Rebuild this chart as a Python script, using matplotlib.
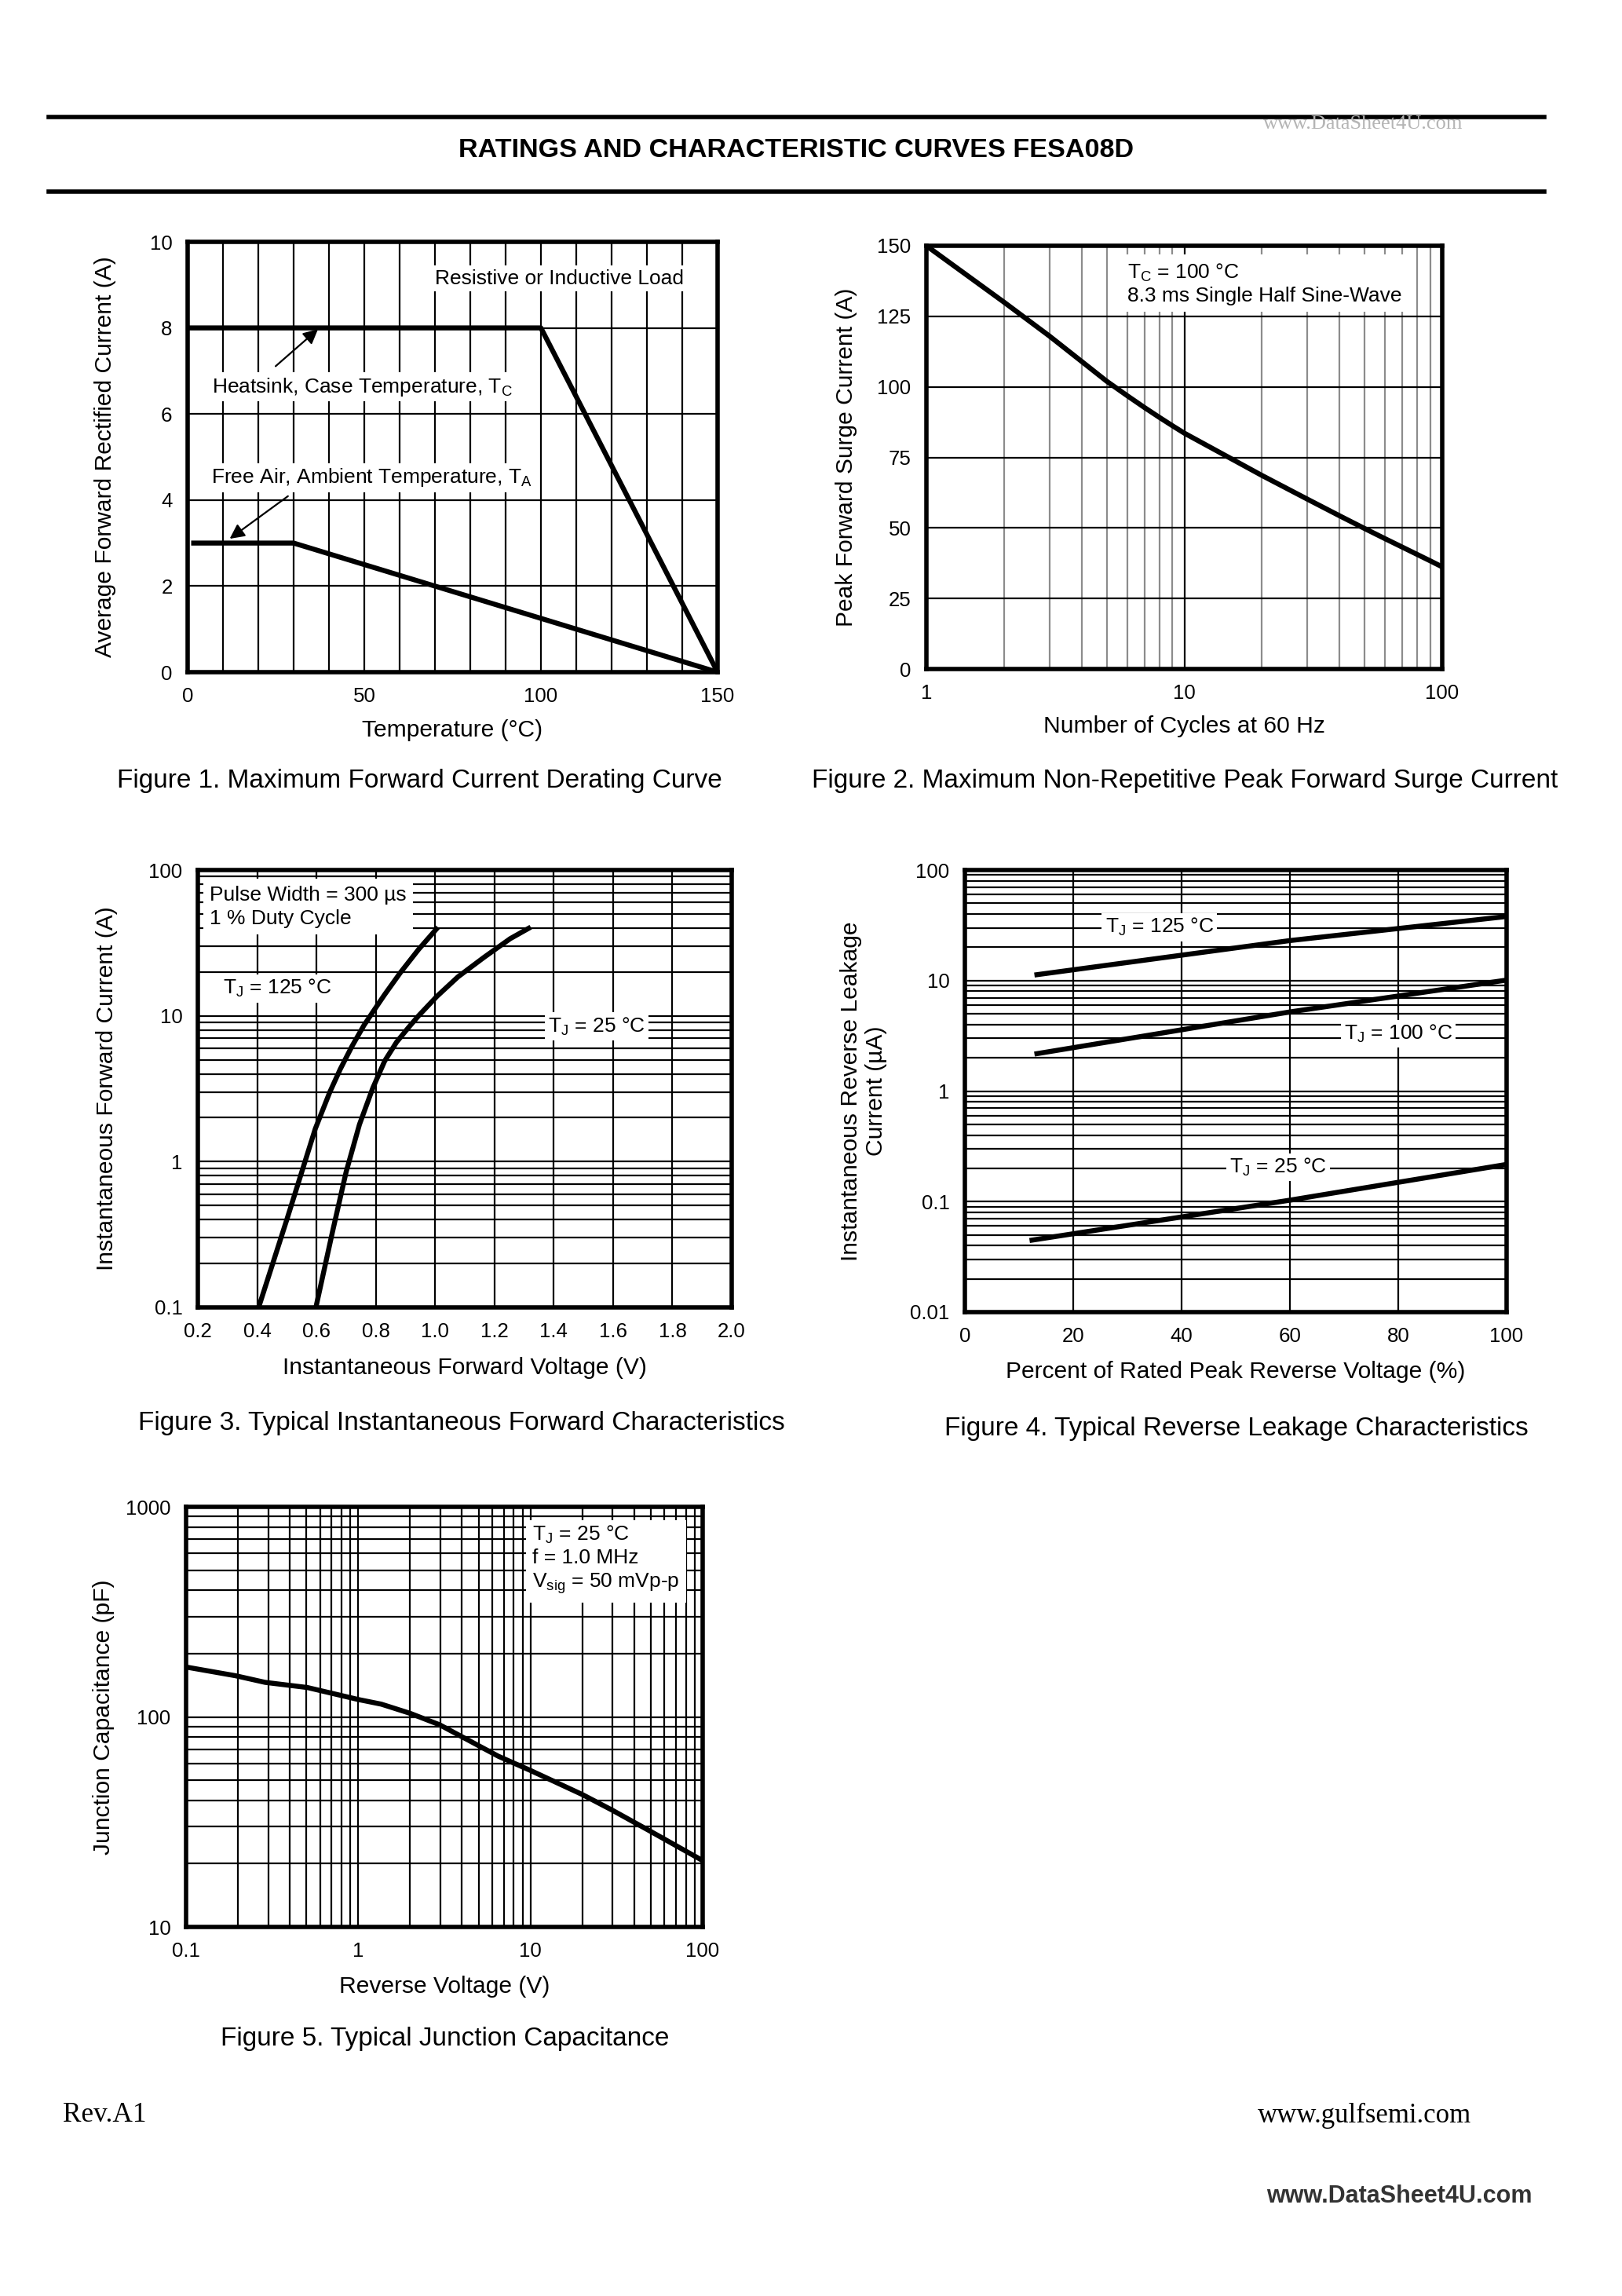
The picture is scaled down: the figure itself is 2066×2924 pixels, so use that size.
import matplotlib
matplotlib.use("Agg")
import matplotlib.pyplot as plt
from matplotlib.lines import Line2D
from matplotlib.ticker import MultipleLocator, FixedLocator, NullFormatter, LogLocator

plt.rcParams['font.family'] = ['Liberation Sans', 'DejaVu Sans']
plt.rcParams['mathtext.fontset'] = 'custom'
plt.rcParams['mathtext.rm'] = 'Liberation Sans'
plt.rcParams['mathtext.it'] = 'Liberation Sans:italic'
plt.rcParams['mathtext.default'] = 'regular'

# ---------------- data ----------------
# Figure 1: derating
tc_temp = [0, 100, 150]
tc_current = [8, 8, 0]
ta_temp = [1, 30, 150]
ta_current = [3, 3, 0]

# Figure 2: surge current
cycles = [1, 2, 3, 4, 5, 6, 7, 8, 9, 10, 20, 30, 40, 50, 60, 70, 80, 90, 100]
surge = [150, 130, 118, 109, 102, 96.9, 92.7, 89.2, 86.2, 83.6,
         68.6, 60.2, 54.3, 49.8, 46.2, 43.2, 40.6, 38.3, 36.2]

# Figure 3: forward characteristics
vf_125 = [0.405, 0.50, 0.596, 0.645, 0.68, 0.72, 0.76, 0.795, 0.83, 0.883, 0.944, 1.004]
if_125 = [0.1, 0.40, 1.68, 3.0, 4.3, 6.2, 8.6, 11.0, 14.0, 19.8, 28.5, 39.3]
vf_25 = [0.598, 0.654, 0.70, 0.745, 0.79, 0.83, 0.87, 0.91, 0.944, 1.006, 1.077, 1.165, 1.253, 1.315]
if_25 = [0.1, 0.33, 0.85, 1.8, 3.2, 4.9, 6.6, 8.3, 10.0, 13.6, 18.5, 25.2, 33.8, 39.8]

# Figure 4: reverse leakage
pct_125 = [13.3, 60, 100]
ir_125 = [11.3, 23, 38]
pct_100 = [13.3, 60, 100]
ir_100 = [2.18, 5.2, 10.1]
pct_25 = [12.4, 60, 100]
ir_25 = [0.0448, 0.103, 0.217]

# Figure 5: junction capacitance
vr = [0.103, 0.194, 0.288, 0.506, 1.0, 1.36, 2.0, 2.97, 4.17, 6.5, 10, 20, 29.8, 49.5, 100]
cj = [172, 157, 146, 138, 121, 115, 104, 91.7, 79, 65, 55.6, 42.7, 36, 28.6, 20.7]

# tick labels
fig1_xticks = [0, 50, 100, 150]
fig1_yticks = [0, 2, 4, 6, 8, 10]
fig2_xticks = [1, 10, 100]
fig2_yticks = [0, 25, 50, 75, 100, 125, 150]
fig3_xticks = [0.2, 0.4, 0.6, 0.8, 1.0, 1.2, 1.4, 1.6, 1.8, 2.0]
fig3_yticks = [0.1, 1, 10, 100]
fig4_xticks = [0, 20, 40, 60, 80, 100]
fig4_yticks = [0.01, 0.1, 1, 10, 100]
fig5_xticks = [0.1, 1, 10, 100]
fig5_yticks = [10, 100, 1000]

# ---------------- figure ----------------
W, H = 2066, 2924
DPI = 200
fig = plt.figure(figsize=(W / DPI, H / DPI), dpi=DPI)
fig.patch.set_facecolor('white')

TICK_FS = 9.3
LABEL_FS = 10.8
ANN_FS = 9.5
CAP_FS = 12
FRAME_LW = 2.0
GRID_LW = 0.8
CURVE_LW = 2.3
WHITE = dict(facecolor='white', edgecolor='none', pad=1.5)


def px_axes(left, top, right, bottom):
    return fig.add_axes([left / W, 1 - bottom / H, (right - left) / W, (bottom - top) / H])


def style(ax, xlabel, ylabel, ylab_x, xlab_y):
    for s in ax.spines.values():
        s.set_linewidth(FRAME_LW)
        s.set_zorder(4)
    ax.tick_params(which='both', length=0, labelsize=TICK_FS, pad=7)
    ax.set_axisbelow(True)
    ax.set_xlabel(xlabel, fontsize=LABEL_FS, va='center')
    ax.set_ylabel(ylabel, fontsize=LABEL_FS, va='center', ha='center', multialignment='center')
    ax.xaxis.set_label_coords(0.5, xlab_y)
    ax.yaxis.set_label_coords(ylab_x, 0.5)


# ---- Figure 1 ----
ax1 = px_axes(239, 308, 914, 856)
ax1.plot(tc_temp, tc_current, color='black', lw=CURVE_LW, solid_capstyle='butt', zorder=3)
ax1.plot(ta_temp, ta_current, color='black', lw=CURVE_LW, solid_capstyle='butt', zorder=3)
ax1.set_xlim(0, 150)
ax1.set_ylim(0, 10)
ax1.set_xticks(fig1_xticks)
ax1.set_yticks(fig1_yticks)
ax1.xaxis.set_minor_locator(MultipleLocator(10))
ax1.grid(which='both', axis='x', color='black', lw=GRID_LW)
ax1.grid(which='major', axis='y', color='black', lw=GRID_LW)
style(ax1, 'Temperature (°C)', 'Average Forward Rectified Current (A)', -0.156, -0.135)
ax1.text(70, 9.15, 'Resistive or Inductive Load', fontsize=ANN_FS, ha='left', va='center', bbox=WHITE)
ax1.text(7.0, 6.63, 'Heatsink, Case Temperature, T$_C$', fontsize=ANN_FS, ha='left', va='center', bbox=WHITE)
ax1.text(6.6, 4.52, 'Free Air, Ambient Temperature, T$_A$', fontsize=ANN_FS, ha='left', va='center', bbox=WHITE)
arrow = dict(arrowstyle='-|>', lw=0.8, color='black', mutation_scale=14, shrinkA=0, shrinkB=0)
ax1.annotate('', xy=(36.9, 7.97), xytext=(24.9, 7.11), arrowprops=arrow)
ax1.annotate('', xy=(11.9, 3.1), xytext=(28.4, 4.09), arrowprops=arrow)

# ---- Figure 2 ----
ax2 = px_axes(1180, 313, 1837, 852)
ax2.plot(cycles, surge, color='black', lw=CURVE_LW, zorder=3)
ax2.set_xscale('log')
ax2.set_xlim(1, 100)
ax2.set_ylim(0, 150)
ax2.xaxis.set_major_locator(FixedLocator(fig2_xticks))
ax2.set_xticklabels([f'{v:g}' for v in fig2_xticks])
ax2.xaxis.set_minor_locator(LogLocator(base=10, subs=range(2, 10)))
ax2.xaxis.set_minor_formatter(NullFormatter())
ax2.set_yticks(fig2_yticks)
ax2.grid(which='major', axis='x', color='black', lw=GRID_LW)
ax2.grid(which='minor', axis='x', color='#8c8c8c', lw=GRID_LW)
ax2.grid(which='major', axis='y', color='black', lw=GRID_LW)
style(ax2, 'Number of Cycles at 60 Hz', 'Peak Forward Surge Current (A)', -0.155, -0.135)
ax2.text(6.0, 136.5, 'T$_C$ = 100 °C\n8.3 ms Single Half Sine-Wave', fontsize=ANN_FS,
         ha='left', va='center', linespacing=1.2, bbox=dict(facecolor='white', edgecolor='none', pad=3))

# ---- Figure 3 ----
ax3 = px_axes(252, 1108, 932, 1665)
ax3.plot(vf_125, if_125, color='black', lw=CURVE_LW, zorder=3)
ax3.plot(vf_25, if_25, color='black', lw=CURVE_LW, zorder=3)
ax3.set_yscale('log')
ax3.set_xlim(0.2, 2.0)
ax3.set_ylim(0.1, 100)
ax3.set_xticks(fig3_xticks)
ax3.set_xticklabels([f'{v:.1f}' for v in fig3_xticks])
ax3.yaxis.set_major_locator(FixedLocator(fig3_yticks))
ax3.set_yticklabels([f'{v:g}' for v in fig3_yticks])
ax3.yaxis.set_minor_locator(LogLocator(base=10, subs=range(2, 10)))
ax3.yaxis.set_minor_formatter(NullFormatter())
ax3.grid(which='major', axis='x', color='black', lw=GRID_LW)
ax3.grid(which='both', axis='y', color='black', lw=GRID_LW)
style(ax3, 'Instantaneous Forward Voltage (V)', 'Instantaneous Forward Current (A)', -0.171, -0.138)
ax3.text(0.24, 56, 'Pulse Width = 300 µs\n1 % Duty Cycle', fontsize=ANN_FS, ha='left', va='center',
         linespacing=1.3, bbox=dict(facecolor='white', edgecolor='none', pad=3))
ax3.text(0.284, 15.4, 'T$_J$ = 125 °C', fontsize=ANN_FS, ha='left', va='center', bbox=WHITE)
ax3.text(1.38, 8.45, 'T$_J$ = 25 °C', fontsize=ANN_FS, ha='left', va='center', bbox=WHITE)

# ---- Figure 4 ----
ax4 = px_axes(1229, 1108, 1919, 1671)
ax4.plot(pct_125, ir_125, color='black', lw=CURVE_LW, zorder=3)
ax4.plot(pct_100, ir_100, color='black', lw=CURVE_LW, zorder=3)
ax4.plot(pct_25, ir_25, color='black', lw=CURVE_LW, zorder=3)
ax4.set_yscale('log')
ax4.set_xlim(0, 100)
ax4.set_ylim(0.01, 100)
ax4.set_xticks(fig4_xticks)
ax4.yaxis.set_major_locator(FixedLocator(fig4_yticks))
ax4.set_yticklabels([f'{v:g}' for v in fig4_yticks])
ax4.yaxis.set_minor_locator(LogLocator(base=10, subs=range(2, 10)))
ax4.yaxis.set_minor_formatter(NullFormatter())
ax4.grid(which='major', axis='x', color='black', lw=GRID_LW)
ax4.grid(which='both', axis='y', color='black', lw=GRID_LW)
style(ax4, 'Percent of Rated Peak Reverse Voltage (%)',
      'Instantaneous Reverse Leakage\nCurrent (µA)', -0.187, -0.135)
ax4.text(25.9, 30.4, 'T$_J$ = 125 °C', fontsize=ANN_FS, ha='left', va='center', bbox=WHITE)
ax4.text(70, 3.3, 'T$_J$ = 100 °C', fontsize=ANN_FS, ha='left', va='center', bbox=WHITE)
ax4.text(48.9, 0.205, 'T$_J$ = 25 °C', fontsize=ANN_FS, ha='left', va='center', bbox=WHITE)

# ---- Figure 5 ----
ax5 = px_axes(237, 1919, 895, 2454)
ax5.plot(vr, cj, color='black', lw=CURVE_LW, zorder=3)
ax5.set_xscale('log')
ax5.set_yscale('log')
ax5.set_xlim(0.1, 100)
ax5.set_ylim(10, 1000)
ax5.xaxis.set_major_locator(FixedLocator(fig5_xticks))
ax5.set_xticklabels([f'{v:g}' for v in fig5_xticks])
ax5.yaxis.set_major_locator(FixedLocator(fig5_yticks))
ax5.set_yticklabels([f'{v:g}' for v in fig5_yticks])
for a in (ax5.xaxis, ax5.yaxis):
    a.set_minor_locator(LogLocator(base=10, subs=range(2, 10)))
    a.set_minor_formatter(NullFormatter())
ax5.grid(which='both', color='black', lw=GRID_LW)
style(ax5, 'Reverse Voltage (V)', 'Junction Capacitance (pF)', -0.16, -0.142)
ax5.text(10.3, 560, 'T$_J$ = 25 °C\nf = 1.0 MHz\nV$_{sig}$ = 50 mVp-p', fontsize=ANN_FS,
         ha='left', va='center', linespacing=1.25, bbox=dict(facecolor='white', edgecolor='none', pad=3))

# ---------------- page furniture ----------------
for y in (149, 244):
    fig.add_artist(Line2D([62 / W, 1967 / W], [1 - y / H, 1 - y / H], transform=fig.transFigure,
                          color='black', lw=2.0))
fig.text(1014 / W, 1 - 192 / H, 'RATINGS AND CHARACTERISTIC CURVES FESA08D', fontsize=12.3,
         fontweight='bold', ha='center', va='center')
fig.text(1609 / W, 1 - 158 / H, 'www.DataSheet4U.com', fontsize=9.5, family='Liberation Serif',
         color='#b5b5b5', ha='left', va='center')

captions = [
    (534, 994, 'Figure 1. Maximum Forward Current Derating Curve'),
    (1509, 994, 'Figure 2. Maximum Non-Repetitive Peak Forward Surge Current'),
    (588, 1812, 'Figure 3. Typical Instantaneous Forward Characteristics'),
    (1575, 1820, 'Figure 4. Typical Reverse Leakage Characteristics'),
    (567, 2597, 'Figure 5. Typical Junction Capacitance'),
]
for cx, cy, txt in captions:
    fig.text(cx / W, 1 - cy / H, txt, fontsize=CAP_FS, ha='center', va='center')

fig.text(80 / W, 1 - 2694 / H, 'Rev.A1', fontsize=12.7, family='Liberation Serif', ha='left', va='center')
fig.text(1874 / W, 1 - 2694 / H, 'www.gulfsemi.com', fontsize=12.5, family='Liberation Serif',
         ha='right', va='center')
fig.text(1952 / W, 1 - 2797 / H, 'www.DataSheet4U.com', fontsize=11, fontweight='bold',
         color='#333333', ha='right', va='center')

fig.savefig('out.png', dpi=DPI, facecolor='white')
